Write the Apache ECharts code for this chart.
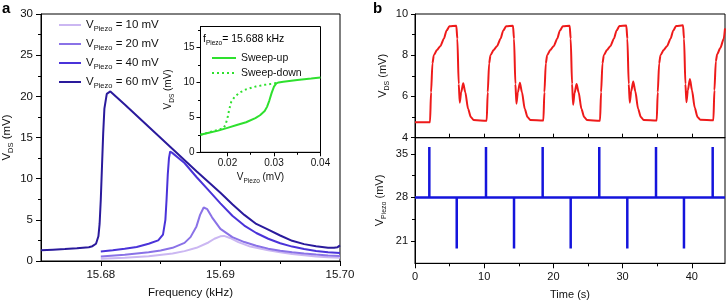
<!DOCTYPE html>
<html><head><meta charset="utf-8">
<script src="https://cdn.jsdelivr.net/npm/echarts@6/dist/echarts.min.js"></script>
<style>html,body{margin:0;padding:0;background:#fff}#c{width:728px;height:304px}</style>
</head><body><div id="c"></div>
<script>
// ---------- Panel a: resonance curves ----------
const legendNames = ['10 mV', '20 mV', '40 mV', '60 mV'];
const f10 = [15.680, 15.682, 15.684, 15.686, 15.687, 15.688, 15.689, 15.6895, 15.690, 15.6903, 15.6908, 15.6915, 15.6925, 15.694, 15.695, 15.696, 15.697, 15.698, 15.699, 15.700];
const v10 = [0.28, 0.4, 0.58, 0.9, 1.2, 1.6, 2.25, 2.7, 3.0, 3.05, 2.8, 2.3, 1.75, 1.3, 1.05, 0.85, 0.7, 0.55, 0.45, 0.38];
const f20 = [15.680, 15.682, 15.684, 15.685, 15.686, 15.687, 15.6875, 15.688, 15.6883, 15.6886, 15.6889, 15.6893, 15.690, 15.691, 15.692, 15.693, 15.694, 15.695, 15.696, 15.697, 15.698, 15.699, 15.700];
const v20 = [0.56, 0.75, 1.05, 1.28, 1.6, 2.2, 2.9, 4.2, 5.6, 6.5, 6.3, 5.3, 3.9, 2.9, 2.3, 1.85, 1.5, 1.25, 1.05, 0.9, 0.78, 0.68, 0.6];
const f40 = [15.680, 15.681, 15.682, 15.683, 15.684, 15.6848, 15.6852, 15.6854, 15.6855, 15.6856, 15.6857, 15.6858, 15.686, 15.687, 15.688, 15.689, 15.690, 15.691, 15.692, 15.693, 15.694, 15.695, 15.696, 15.697, 15.698, 15.699, 15.700];
const v40 = [1.15, 1.3, 1.48, 1.7, 2.1, 2.5, 3.2, 5.0, 7.5, 10.5, 12.5, 13.3, 13.1, 11.9, 10.2, 8.6, 7.0, 5.5, 4.3, 3.4, 2.7, 2.15, 1.75, 1.45, 1.22, 1.06, 0.96];
const f60 = [15.675, 15.676, 15.677, 15.678, 15.679, 15.6793, 15.6796, 15.6798, 15.6799, 15.6800, 15.6801, 15.6802, 15.6803, 15.6805, 15.6808, 15.682, 15.684, 15.686, 15.688, 15.689, 15.690, 15.691, 15.692, 15.693, 15.694, 15.695, 15.696, 15.697, 15.698, 15.699, 15.6995, 15.6998, 15.700];
const v60 = [1.3, 1.38, 1.45, 1.55, 1.68, 1.8, 2.1, 3.0, 4.5, 7.5, 11.5, 15.5, 18.5, 20.3, 20.6, 19.0, 16.3, 13.6, 10.9, 9.6, 8.3, 6.9, 5.6, 4.5, 3.8, 3.1, 2.45, 2.05, 1.8, 1.62, 1.6, 1.68, 1.9];
const freqTicks = [15.68, 15.69, 15.70];
const freqMinor = [15.685, 15.695];

// ---------- Panel a inset: hysteresis ----------
const upX = [0.0142, 0.016, 0.018, 0.020, 0.022, 0.024, 0.026, 0.027, 0.028, 0.0285, 0.029, 0.0295, 0.030, 0.0305, 0.031, 0.032, 0.035, 0.038, 0.040];
const upY = [2.5, 2.8, 3.1, 3.5, 3.9, 4.3, 4.9, 5.3, 5.9, 6.5, 7.4, 8.5, 9.4, 9.85, 10.0, 10.1, 10.35, 10.55, 10.7];
const downX = [0.0142, 0.016, 0.018, 0.0192, 0.0196, 0.020, 0.0204, 0.0208, 0.0215, 0.0225, 0.024, 0.026, 0.028, 0.030, 0.031];
const downY = [2.5, 2.85, 3.2, 3.5, 4.0, 4.9, 6.2, 7.2, 7.9, 8.5, 9.0, 9.4, 9.65, 9.85, 10.0];
const insetXTicks = [0.02, 0.03, 0.04];
const insetXMinor = [0.025, 0.035];
const insetYTicks = [0, 5, 10, 15];
const insetYMinor = [2.5, 7.5, 12.5, 17.5];

// ---------- Panel b: time traces ----------
const timeTop = [0, 2.17, 2.32, 2.52, 2.72, 3.17, 3.67, 4.17, 4.57, 4.97, 5.97, 6.12, 6.32, 6.47, 6.67, 6.97, 7.27, 7.67, 8.07, 8.47,
  10.36, 10.51, 10.71, 10.91, 11.36, 11.86, 12.36, 12.76, 13.16, 14.16, 14.31, 14.51, 14.66, 14.86, 15.16, 15.46, 15.86, 16.26, 16.66,
  18.55, 18.70, 18.90, 19.10, 19.55, 20.05, 20.55, 20.95, 21.35, 22.35, 22.50, 22.70, 22.85, 23.05, 23.35, 23.65, 24.05, 24.45, 24.85,
  26.74, 26.89, 27.09, 27.29, 27.74, 28.24, 28.74, 29.14, 29.54, 30.54, 30.69, 30.89, 31.04, 31.24, 31.54, 31.84, 32.24, 32.64, 33.04,
  34.93, 35.08, 35.28, 35.48, 35.93, 36.43, 36.93, 37.33, 37.73, 38.73, 38.88, 39.08, 39.23, 39.43, 39.73, 40.03, 40.43, 40.83, 41.23,
  43.12, 43.27, 43.47, 43.67, 44.12, 44.62, 44.8];
const vdsTop = [4.75, 4.75, 6.2, 7.6, 8.0, 8.25, 8.45, 8.8, 9.2, 9.4, 9.43, 8.8, 6.6, 5.7, 6.2, 6.64, 6.2, 5.4, 5.0, 4.86,
  4.82, 6.2, 7.6, 8.0, 8.25, 8.45, 8.8, 9.2, 9.4, 9.43, 8.8, 6.6, 5.65, 6.2, 6.66, 6.2, 5.4, 5.0, 4.86,
  4.83, 6.2, 7.6, 8.0, 8.25, 8.45, 8.8, 9.2, 9.4, 9.43, 8.8, 6.6, 5.6, 6.15, 6.6, 6.2, 5.4, 5.0, 4.86,
  4.82, 6.2, 7.6, 8.0, 8.25, 8.45, 8.8, 9.2, 9.42, 9.44, 8.8, 6.6, 5.7, 6.25, 6.72, 6.25, 5.4, 5.0, 4.86,
  4.83, 6.2, 7.6, 8.0, 8.25, 8.45, 8.8, 9.2, 9.42, 9.45, 8.8, 6.6, 5.72, 6.3, 6.85, 6.3, 5.45, 5.0, 4.87,
  4.85, 6.3, 7.7, 8.05, 8.35, 8.8, 9.3];
const timeBottom = [0, 2.07, 2.07, 2.07, 6.03, 6.03, 6.03, 10.26, 10.26, 10.26, 14.31, 14.31, 14.31, 18.45, 18.45, 18.45,
  22.50, 22.50, 22.50, 26.63, 26.63, 26.63, 30.68, 30.68, 30.68, 34.83, 34.83, 34.83, 38.87, 38.87, 38.87, 43.02, 43.02, 43.02, 44.8];
const vPiezo = [28, 28, 36.1, 28, 28, 19.8, 28, 28, 36.1, 28, 28, 19.8, 28, 28, 36.1, 28,
  28, 19.8, 28, 28, 36.1, 28, 28, 19.8, 28, 28, 36.1, 28, 28, 19.8, 28, 28, 36.1, 28, 28];
const timeTicks = [0, 10, 20, 30, 40];
const timeMinor = [5, 15, 25, 35];
const timeAll = [0, 5, 10, 15, 20, 25, 30, 35, 40];
const piezoTicks = [21, 28, 35];
const piezoMinor = [24.5, 31.5];

// ---------- rendering ----------
const FF = "'Liberation Sans', Arial, Helvetica, sans-serif";
const TXT = '#111';
const zip = (xs, ys) => xs.map((x, i) => [x, ys[i]]);
function rich(big, small, lh) {
  return {
    v: { fontSize: big, fontFamily: FF, color: TXT, lineHeight: lh, verticalAlign: 'middle' },
    s: { fontSize: small, fontFamily: FF, color: TXT, lineHeight: lh, verticalAlign: 'bottom' }
  };
}
const axLine = { show: true, lineStyle: { color: '#000', width: 1 } };
function xAx(grid, min, max, opts) {
  return Object.assign({
    type: 'value', gridIndex: grid, min: min, max: max, position: 'bottom', offset: 0,
    axisLine: axLine, splitLine: { show: false }
  }, opts);
}
function yAx(grid, min, max, opts) {
  return Object.assign({
    type: 'value', gridIndex: grid, min: min, max: max, position: 'left', offset: 0,
    axisLine: axLine, splitLine: { show: false }
  }, opts);
}
const lblA = { fontSize: 11.5, fontFamily: FF, color: TXT };
const lblI = { fontSize: 10, fontFamily: FF, color: TXT };
const lblB = { fontSize: 11, fontFamily: FF, color: TXT };
const noSymbol = { color: 'rgba(0,0,0,0)', borderWidth: 0, opacity: 0 };

const colors = ['#cbb7f2', '#8a72e7', '#4a33d9', '#2a1a9c'];

const chart = echarts.init(document.getElementById('c'), null, { renderer: 'canvas' });
chart.setOption({
  animation: false,
  backgroundColor: '#fff',
  grid: [
    { left: 41, top: 14, width: 299, height: 250, show: true, borderColor: '#000', borderWidth: 1 },
    { left: 200.5, top: 26.5, width: 120, height: 125.8, show: true, backgroundColor: '#fff', borderColor: '#000', borderWidth: 1 },
    { left: 415, top: 14, width: 310, height: 123.7, show: true, borderColor: '#000', borderWidth: 1 },
    { left: 415, top: 137.7, width: 310, height: 125.6, show: true, borderColor: '#000', borderWidth: 1 }
  ],
  xAxis: [
    xAx(0, 15.675, 15.70, {
      axisTick: { show: true, length: 5, customValues: freqTicks, lineStyle: { color: '#000' } },
      axisLabel: { customValues: freqTicks, margin: 8, formatter: v => Number(v).toFixed(2), ...lblA },
      name: 'Frequency (kHz)', nameLocation: 'middle', nameGap: 26, nameTextStyle: { ...lblA }
    }),
    xAx(0, 15.675, 15.70, {
      axisLine: { show: false },
      axisTick: { show: true, length: 3, customValues: freqMinor, lineStyle: { color: '#000' } },
      axisLabel: { show: false }
    }),
    xAx(1, 0.0142, 0.04, {
      axisTick: { show: true, length: 4, customValues: insetXTicks, lineStyle: { color: '#000' } },
      axisLabel: { customValues: insetXTicks, margin: 6, formatter: v => Number(v).toFixed(2), ...lblI },
      name: '{v|V}{s|Piezo}{v| (mV)}', nameLocation: 'middle', nameGap: 18,
      nameTextStyle: { rich: rich(10, 6.5, 14) }
    }),
    xAx(1, 0.0142, 0.04, {
      axisLine: { show: false },
      axisTick: { show: true, length: 2.5, customValues: insetXMinor, lineStyle: { color: '#000' } },
      axisLabel: { show: false }
    }),
    xAx(2, 0, 44.8, {
      axisTick: { show: true, inside: true, length: 4, customValues: timeAll, lineStyle: { color: '#000' } },
      axisLabel: { show: false }
    }),
    xAx(3, 0, 44.8, {
      axisTick: { show: true, length: 5, customValues: timeTicks, lineStyle: { color: '#000' } },
      axisLabel: { customValues: timeTicks, margin: 8, ...lblB },
      name: 'Time (s)', nameLocation: 'middle', nameGap: 26, nameTextStyle: { ...lblB }
    }),
    xAx(3, 0, 44.8, {
      axisLine: { show: false },
      axisTick: { show: true, length: 3, customValues: timeMinor, lineStyle: { color: '#000' } },
      axisLabel: { show: false }
    })
  ],
  yAxis: [
    yAx(0, 0, 30, {
      interval: 5,
      axisTick: { show: true, length: 5, lineStyle: { color: '#000' } },
      minorTick: { show: true, splitNumber: 2, length: 3, lineStyle: { color: '#000' } },
      axisLabel: { margin: 8, ...lblA },
      name: '{v|V}{s|DS}{v| (mV)}', nameLocation: 'middle', nameGap: 26,
      nameTextStyle: { rich: rich(11.5, 7.5, 16) }
    }),
    yAx(1, 0, 18, {
      axisTick: { show: true, length: 4, customValues: insetYTicks, lineStyle: { color: '#000' } },
      axisLabel: { customValues: insetYTicks, margin: 6, ...lblI },
      name: '{v|V}{s|DS}{v| (mV)}', nameLocation: 'middle', nameGap: 25,
      nameTextStyle: { rich: rich(10, 6.5, 14) }
    }),
    yAx(1, 0, 18, {
      axisLine: { show: false },
      axisTick: { show: true, length: 2.5, customValues: insetYMinor, lineStyle: { color: '#000' } },
      axisLabel: { show: false }
    }),
    yAx(2, 4, 10, {
      interval: 2,
      axisTick: { show: true, length: 4, lineStyle: { color: '#000' } },
      minorTick: { show: true, splitNumber: 2, length: 3, lineStyle: { color: '#000' } },
      axisLabel: { margin: 7, ...lblB },
      name: '{v|V}{s|DS}{v| (mV)}', nameLocation: 'middle', nameGap: 24,
      nameTextStyle: { rich: rich(11, 7, 16) }
    }),
    yAx(3, 17.4, 37.6, {
      axisTick: { show: true, length: 4, customValues: piezoTicks, lineStyle: { color: '#000' } },
      axisLabel: { customValues: piezoTicks, margin: 7, ...lblB },
      name: '{v|V}{s|Piezo}{v| (mV)}', nameLocation: 'middle', nameGap: 27,
      nameTextStyle: { rich: rich(11, 7, 16) }
    }),
    yAx(3, 17.4, 37.6, {
      axisLine: { show: false },
      axisTick: { show: true, length: 3, customValues: piezoMinor, lineStyle: { color: '#000' } },
      axisLabel: { show: false }
    })
  ],
  legend: [
    {
      data: legendNames, orient: 'vertical', left: 53, top: 14, itemWidth: 22, itemHeight: 14, itemGap: 5,
      itemStyle: noSymbol,
      formatter: n => '{v|V}{s|Piezo}{v| = ' + n + '}',
      textStyle: { rich: rich(11.5, 7.5, 16) }
    },
    {
      data: ['Sweep-up', 'Sweep-down'], orient: 'vertical', left: 206, top: 47, itemWidth: 24, itemHeight: 12, itemGap: 3,
      itemStyle: noSymbol,
      textStyle: { fontSize: 10.5, fontFamily: FF, color: TXT, lineHeight: 12 }
    }
  ],
  graphic: [
    { type: 'text', left: 2, top: 1, style: { text: 'a', font: "bold 15px 'Liberation Sans', Arial", fill: '#000' } },
    { type: 'text', left: 373, top: 1, style: { text: 'b', font: "bold 15px 'Liberation Sans', Arial", fill: '#000' } },
    { type: 'text', left: 203, top: 34, z: 10, style: { text: '{v|f}{s|Piezo}{v|= 15.688 kHz}', rich: rich(10.5, 6.5, 14) } }
  ],
  series: [
    { name: legendNames[0], type: 'line', xAxisIndex: 0, yAxisIndex: 0, data: zip(f10, v10), showSymbol: false, symbol: 'none', lineStyle: { color: colors[0], width: 2 }, itemStyle: { color: colors[0] } },
    { name: legendNames[1], type: 'line', xAxisIndex: 0, yAxisIndex: 0, data: zip(f20, v20), showSymbol: false, symbol: 'none', lineStyle: { color: colors[1], width: 2 }, itemStyle: { color: colors[1] } },
    { name: legendNames[2], type: 'line', xAxisIndex: 0, yAxisIndex: 0, data: zip(f40, v40), showSymbol: false, symbol: 'none', lineStyle: { color: colors[2], width: 2 }, itemStyle: { color: colors[2] } },
    { name: legendNames[3], type: 'line', xAxisIndex: 0, yAxisIndex: 0, data: zip(f60, v60), showSymbol: false, symbol: 'none', lineStyle: { color: colors[3], width: 2 }, itemStyle: { color: colors[3] } },
    { name: 'Sweep-up', type: 'line', xAxisIndex: 2, yAxisIndex: 1, data: zip(upX, upY), showSymbol: false, symbol: 'none', lineStyle: { color: '#2ee02e', width: 2 }, itemStyle: { color: '#2ee02e' } },
    { name: 'Sweep-down', type: 'line', xAxisIndex: 2, yAxisIndex: 1, data: zip(downX, downY), showSymbol: false, symbol: 'none', lineStyle: { color: '#2ee02e', width: 2, type: [2, 3] }, itemStyle: { color: '#2ee02e' } },
    { name: 'VDS', type: 'line', xAxisIndex: 4, yAxisIndex: 3, data: zip(timeTop, vdsTop), showSymbol: false, symbol: 'none', smooth: 0.25, smoothMonotone: 'x', lineStyle: { color: '#ee1a1a', width: 2 } },
    { name: 'VPiezo', type: 'line', xAxisIndex: 5, yAxisIndex: 4, data: zip(timeBottom, vPiezo), showSymbol: false, symbol: 'none', lineStyle: { color: '#1414dc', width: 2.5 } }
  ]
});
</script></body></html>
